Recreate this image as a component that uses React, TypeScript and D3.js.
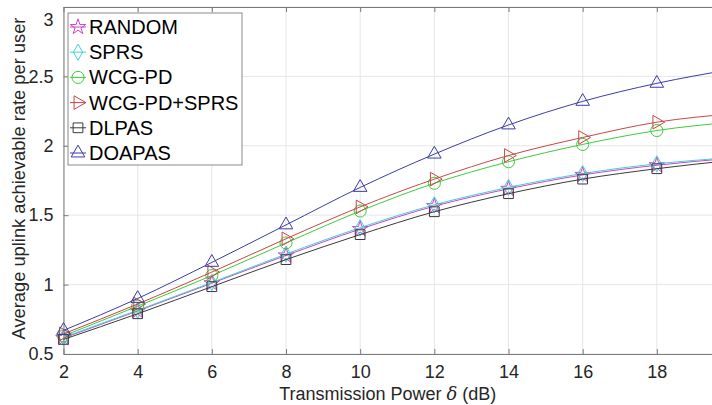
import React, { useEffect, useRef } from 'react';
import * as d3 from 'd3';

// transmission power (dB); the last point lies past the cropped right edge
const powers = [2, 4, 6, 8, 10, 12, 14, 16, 18, 20];
const xTicks = [2, 4, 6, 8, 10, 12, 14, 16, 18];
const yTicks = [0.5, 1, 1.5, 2, 2.5, 3];

const seriesNames = ['RANDOM', 'SPRS', 'WCG-PD', 'WCG-PD+SPRS', 'DLPAS', 'DOAPAS'];
const randomRate = [0.615, 0.81, 1.01, 1.21, 1.4, 1.565, 1.69, 1.79, 1.86, 1.91];
const sprsRate = [0.62, 0.815, 1.015, 1.22, 1.41, 1.575, 1.7, 1.8, 1.87, 1.915];
const wcgRate = [0.63, 0.845, 1.065, 1.3, 1.53, 1.73, 1.885, 2.01, 2.11, 2.17];
const wcgSprsRate = [0.645, 0.86, 1.09, 1.33, 1.56, 1.76, 1.93, 2.06, 2.17, 2.23];
const dlpasRate = [0.605, 0.79, 0.985, 1.18, 1.36, 1.525, 1.655, 1.76, 1.835, 1.895];
const doapasRate = [0.67, 0.9, 1.16, 1.43, 1.7, 1.94, 2.15, 2.32, 2.45, 2.55];

const App = () => {
  const svgRef = useRef(null);

  useEffect(() => {
    document.body.style.margin = '0';
    const svg = d3.select(svgRef.current);
    svg.selectAll('*').remove();

    const width = 712;
    const height = 405;
    const margin = { top: 7, right: -19, bottom: 51, left: 63.5 };
    const font = 'Liberation Sans, Arial, sans-serif';
    const axisColor = '#7a7a7a';

    const series = [
      { name: seriesNames[0], values: randomRate, color: '#cc44cc', symbol: d3.symbolStar, size: 75, rotate: 0 },
      { name: seriesNames[1], values: sprsRate, color: '#3fd3d3', symbol: d3.symbolDiamond, size: 75, rotate: 0 },
      { name: seriesNames[2], values: wcgRate, color: '#3ccc3c', symbol: d3.symbolCircle, size: 115, rotate: 0 },
      { name: seriesNames[3], values: wcgSprsRate, color: '#c84646', symbol: d3.symbolTriangle, size: 80, rotate: 90 },
      { name: seriesNames[4], values: dlpasRate, color: '#3a3a3a', symbol: d3.symbolSquare, size: 95, rotate: 0 },
      { name: seriesNames[5], values: doapasRate, color: '#3c3ca8', symbol: d3.symbolTriangle, size: 80, rotate: 0 },
    ];

    const x = d3.scaleLinear()
      .domain([2, 20])
      .range([margin.left, width - margin.right]);

    const y = d3.scaleLinear()
      .domain([0.5, 3])
      .range([height - margin.bottom, margin.top]);

    // Gridlines
    svg.append('g')
      .selectAll('line')
      .data(xTicks)
      .join('line')
      .attr('x1', d => x(d))
      .attr('x2', d => x(d))
      .attr('y1', y(0.5))
      .attr('y2', y(3))
      .attr('stroke', '#e6e6e6');

    svg.append('g')
      .selectAll('line')
      .data(yTicks)
      .join('line')
      .attr('x1', x(2))
      .attr('x2', x(20))
      .attr('y1', d => y(d))
      .attr('y2', d => y(d))
      .attr('stroke', '#e6e6e6');

    // Axes (MATLAB style: box on, ticks pointing inward)
    const styleAxis = g => {
      g.select('.domain').attr('stroke', axisColor);
      g.selectAll('.tick line').attr('stroke', axisColor);
      g.selectAll('.tick text')
        .attr('fill', '#262626')
        .style('font-family', font)
        .style('font-size', '18px');
    };

    svg.append('g')
      .attr('transform', `translate(0,${y(0.5)})`)
      .call(d3.axisBottom(x).tickValues(xTicks).tickSizeInner(-5).tickSizeOuter(0).tickPadding(11))
      .call(styleAxis);

    svg.append('g')
      .attr('transform', `translate(0,${y(3)})`)
      .call(d3.axisTop(x).tickValues(xTicks).tickSizeInner(-5).tickSizeOuter(0).tickFormat(() => ''))
      .call(styleAxis);

    const yAxis = svg.append('g')
      .attr('transform', `translate(${x(2)},0)`)
      .call(d3.axisLeft(y).tickValues(yTicks).tickFormat(d3.format('')).tickSizeInner(-5).tickSizeOuter(0).tickPadding(10))
      .call(styleAxis);
    // top label sits a little lower so it stays inside the figure
    yAxis.selectAll('.tick text').filter(d => d === 3).attr('dy', '1.05em');

    // Lines
    const line = d3.line()
      .x(d => x(d[0]))
      .y(d => y(d[1]))
      .curve(d3.curveMonotoneX);

    series.forEach(s => {
      const pts = powers.map((p, i) => [p, s.values[i]]);
      svg.append('path')
        .datum(pts)
        .attr('d', line)
        .attr('fill', 'none')
        .attr('stroke', s.color)
        .attr('stroke-width', 1);

      svg.append('g')
        .selectAll('path')
        .data(pts.filter(d => d[0] <= 18))
        .join('path')
        .attr('d', d3.symbol().type(s.symbol).size(s.size))
        .attr('transform', d => `translate(${x(d[0])},${y(d[1])}) rotate(${s.rotate})`)
        .attr('fill', 'none')
        .attr('stroke', s.color)
        .attr('stroke-width', 1);
    });

    // Axis labels
    svg.append('text')
      .attr('x', (x(2) + width) / 2)
      .attr('y', 400)
      .attr('text-anchor', 'middle')
      .attr('fill', '#262626')
      .style('font-family', font)
      .style('font-size', '18px')
      .html('Transmission Power <tspan font-style="italic" font-family="DejaVu Serif, serif">δ</tspan> (dB)');

    svg.append('text')
      .attr('transform', `translate(25,${(y(0.5) + y(3)) / 2 - 2}) rotate(-90)`)
      .attr('text-anchor', 'middle')
      .attr('fill', '#262626')
      .style('font-family', font)
      .style('font-size', '18.3px')
      .text('Average uplink achievable rate per user');

    // Legend
    const legend = svg.append('g');
    legend.append('rect')
      .attr('x', 68)
      .attr('y', 13)
      .attr('width', 174)
      .attr('height', 152)
      .attr('fill', '#fff')
      .attr('stroke', '#8a8a8a');

    series.forEach((s, i) => {
      const cy = 27 + i * 25.2;
      legend.append('line')
        .attr('x1', 70)
        .attr('x2', 86)
        .attr('y1', cy)
        .attr('y2', cy)
        .attr('stroke', s.color);
      legend.append('path')
        .attr('d', d3.symbol().type(s.symbol).size(s.size)())
        .attr('transform', `translate(78,${cy}) rotate(${s.rotate})`)
        .attr('fill', 'none')
        .attr('stroke', s.color);
      legend.append('text')
        .attr('x', 89)
        .attr('y', cy + 7)
        .attr('fill', '#000')
        .style('font-family', font)
        .style('font-size', '20px')
        .text(s.name);
    });
  }, []);

  return <svg ref={svgRef} width="712" height="405" style={{ display: 'block' }}></svg>;
};

export default App;
